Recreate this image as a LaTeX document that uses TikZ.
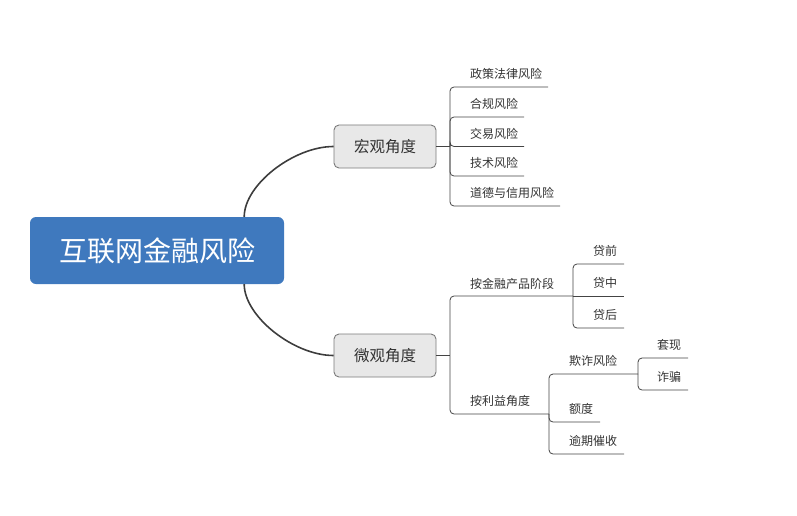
\documentclass[tikz,border=0pt]{standalone}
\usepackage{fontspec}
\setmainfont{Noto Sans CJK SC}
\usetikzlibrary{calc}
\definecolor{rootblue}{HTML}{3F79BE}
\definecolor{boxgray}{HTML}{E8E8E8}
\definecolor{boxline}{HTML}{7A7A7A}
\definecolor{txt}{HTML}{333333}
\definecolor{lin}{HTML}{444444}
\tikzset{
  rootbox/.style={rectangle, rounded corners=6pt, fill=rootblue, text=white,
    minimum width=254pt, minimum height=67pt, font=\fontsize{28}{30}\selectfont, inner sep=0pt},
  topicbox/.style={rectangle, rounded corners=5pt, fill=boxgray, draw=boxline, line width=0.9pt,
    minimum width=102pt, minimum height=43pt, text=txt, font=\fontsize{15.5}{18}\selectfont, inner sep=0pt},
  leaf/.style={anchor=west, text=txt, font=\fontsize{12}{14}\selectfont, inner sep=0pt},
  conn/.style={draw=lin, line width=0.8pt, rounded corners=4pt},
  maincurve/.style={draw=lin!90!black, line width=1.6pt},
}
\begin{document}
\begin{tikzpicture}[x=1pt,y=-1pt]
\useasboundingbox (0,0) rectangle (797,516);
% main nodes
\node[rootbox] (root) at (157,250.5) {互联网金融风险};
\node[topicbox] (mac) at (385,146.5) {宏观角度};
\node[topicbox] (mic) at (385,355.5) {微观角度};
% main curves
\draw[maincurve] ($(root.north east)+(-40,0)$) .. controls ($(root.north east)+(-40,-32)$) and ($(mac.west)+(-40,0)$) .. (mac.west);
\draw[maincurve] ($(root.south east)+(-40,0)$) .. controls ($(root.south east)+(-40,32)$) and ($(mic.west)+(-40,0)$) .. (mic.west);
% macro branch
\coordinate (jA) at (450,146.5);
\coordinate (a1) at (548,87);
\coordinate (a2) at (524,117);
\coordinate (a3) at (524,146.5);
\coordinate (a4) at (524,176);
\coordinate (a5) at (560,206);
\draw[conn] (mac.east) -- (jA);
\foreach \c in {a1,a2,a3,a4,a5} \draw[conn] (jA) |- (\c);
\node[leaf] (t1) at (470,74) {政策法律风险};
\node[leaf] (t2) at (470,104) {合规风险};
\node[leaf] (t3) at (470,133.5) {交易风险};
\node[leaf] (t4) at (470,163) {技术风险};
\node[leaf] (t5) at (470,193) {道德与信用风险};
% micro branch
\coordinate (jB) at (450,355.5);
\coordinate (b1) at (573,296);
\coordinate (b2) at (549,414);
\draw[conn] (mic.east) -- (jB);
\draw[conn] (jB) |- (b1);
\draw[conn] (jB) |- (b2);
\node[leaf] (u1) at (470,283.5) {按金融产品阶段};
\node[leaf] (u2) at (470,401) {按利益角度};
% stage
\coordinate (c1) at (624,264);
\coordinate (c2) at (624,296);
\coordinate (c3) at (624,328);
\draw[conn] (b1) |- (c1);
\draw[conn] (b1) -- (c2);
\draw[conn] (b1) |- (c3);
\node[leaf] (v1) at (593,251) {贷前};
\node[leaf] (v2) at (593,283) {贷中};
\node[leaf] (v3) at (593,315) {贷后};
% interest
\coordinate (d1) at (638,374);
\coordinate (d2) at (600,422);
\coordinate (d3) at (624,454);
\draw[conn] (b2) |- (d1);
\draw[conn] (b2) |- (d2);
\draw[conn] (b2) |- (d3);
\node[leaf] (w1) at (569,361) {欺诈风险};
\node[leaf] (w2) at (569,409) {额度};
\node[leaf] (w3) at (569,441) {逾期催收};
% fraud
\coordinate (e1) at (688,358);
\coordinate (e2) at (688,390);
\draw[conn] (d1) |- (e1);
\draw[conn] (d1) |- (e2);
\node[leaf] (x1) at (657,345) {套现};
\node[leaf] (x2) at (657,377) {诈骗};
\end{tikzpicture}
\end{document}
